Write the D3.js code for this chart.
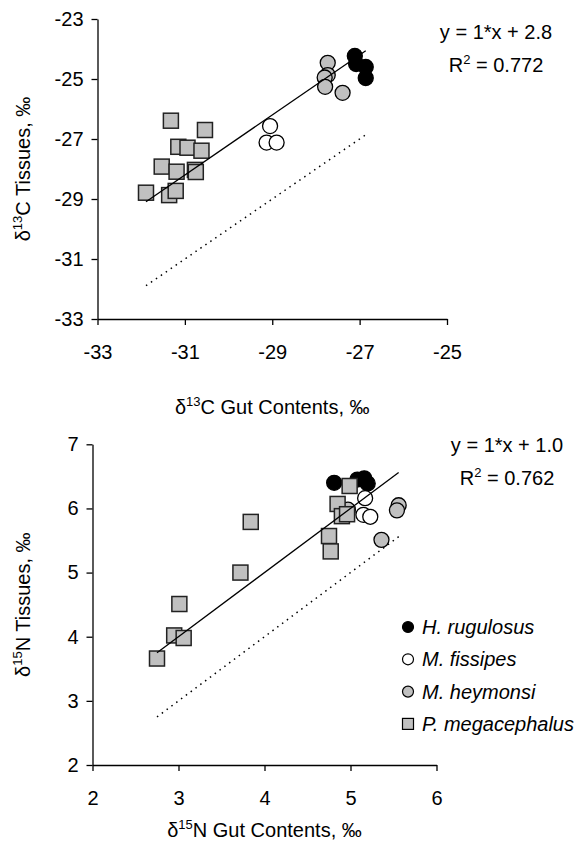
<!DOCTYPE html>
<html lang="en">
<head>
<meta charset="UTF-8" />
<title>isotope scatter</title>
<script src="https://d3js.org/d3.v7.min.js"></script>
<style>
  body { margin: 0; background: #fff; }
  svg { font-family: "Liberation Sans", Arial, sans-serif; }
  .axis path, .axis line { stroke: #000; stroke-width: 1.3; }
  .axis text { font-size: 20px; fill: #000; font-family: "Liberation Sans", Arial, sans-serif; }
</style>
</head>
<body>
<script>

const WIDTH = 577;
const HEIGHT = 843;

const species = ["H. rugulosus", "M. fissipes", "M. heymonsi", "P. megacephalus"];

// delta 13C: gut contents (x) vs tissues (y)
const hrC_x = [-27.11, -27.08, -26.86, -26.86];
const hrC_y = [-24.23, -24.50, -24.60, -24.97];
const mfC_x = [-29.05, -29.13, -28.90];
const mfC_y = [-26.57, -27.12, -27.12];
const mhC_x = [-27.73, -27.73, -27.80, -27.79, -27.39];
const mhC_y = [-24.46, -24.87, -24.95, -25.26, -25.46];
const pmC_x = [-31.32, -30.54, -31.15, -30.94, -30.62, -31.53, -31.19, -30.77, -30.75, -31.89, -31.36, -31.21];
const pmC_y = [-26.39, -26.70, -27.26, -27.29, -27.39, -27.92, -28.09, -28.03, -28.10, -28.79, -28.87, -28.73];
const cTicks = [-33, -31, -29, -27, -25];
const cTicksY = [-33, -31, -29, -27, -25, -23];
const cFit = { slope: 1, intercept: 2.8, r2: "0.772", label: "2.8" };

// delta 15N
const hrN_x = [4.81, 5.08, 5.16, 5.20];
const hrN_y = [6.40, 6.45, 6.47, 6.39];
const mfN_x = [5.17, 5.15, 5.23];
const mfN_y = [6.16, 5.90, 5.87];
const mhN_x = [5.56, 5.54, 5.36, 4.97];
const mhN_y = [6.05, 5.97, 5.51, 5.98];
const pmN_x = [2.75, 2.95, 3.06, 3.01, 3.72, 3.84, 4.75, 4.77, 4.85, 4.90, 4.96, 4.99];
const pmN_y = [3.66, 4.02, 3.98, 4.51, 5.00, 5.79, 5.57, 5.33, 6.07, 5.88, 5.91, 6.35];
const nTicks = [2, 3, 4, 5, 6];
const nTicksY = [2, 3, 4, 5, 6, 7];
const nFit = { slope: 1, intercept: 1.0, r2: "0.762", label: "1.0" };

const fills = ["#000000", "#ffffff", "#c0c0c0", "#c0c0c0"];

var svg = d3.select("body").append("svg")
    .attr("width", WIDTH)
    .attr("height", HEIGHT);

// plain hyphen minus like the original, no decimals
const fmt = d => String(d);

// text with a superscript piece: parts = [normal, sup, normal]
function supText(sel, parts) {
    sel.append("tspan").text(parts[0]);
    sel.append("tspan").attr("font-size", 13).attr("dy", -8).text(parts[1]);
    sel.append("tspan").attr("dy", 8).text(parts[2]);
}

function drawPanel(p) {
    const x = d3.scaleLinear().domain(p.xDomain).range(p.xRange);
    const y = d3.scaleLinear().domain(p.yDomain).range(p.yRange);

    svg.append("g")
        .attr("class", "axis")
        .attr("transform", `translate(0, ${p.yRange[0]})`)
        .call(d3.axisBottom(x).tickValues(p.xTicks).tickFormat(fmt)
            .tickSize(6).tickSizeOuter(0).tickPadding(20));

    svg.append("g")
        .attr("class", "axis")
        .attr("transform", `translate(${p.xRange[0]}, 0)`)
        .call(d3.axisLeft(y).tickValues(p.yTicks).tickFormat(fmt)
            .tickSize(6).tickSizeOuter(0).tickPadding(8));

    // markers
    p.series.forEach((s, i) => {
        const pts = s[0].map((v, k) => [v, s[1][k]]);
        if (i < 3) {
            svg.append("g").selectAll("circle")
                .data(pts).enter().append("circle")
                .attr("cx", d => x(d[0]))
                .attr("cy", d => y(d[1]))
                .attr("r", 7.5)
                .attr("fill", fills[i])
                .attr("stroke", "#000")
                .attr("stroke-width", 1.3);
        } else {
            svg.append("g").selectAll("rect")
                .data(pts).enter().append("rect")
                .attr("x", d => x(d[0]) - 7.5)
                .attr("y", d => y(d[1]) - 7.5)
                .attr("width", 15)
                .attr("height", 15)
                .attr("fill", fills[i])
                .attr("stroke", "#222")
                .attr("stroke-width", 1.5);
        }
    });

    // fitted line and 1:1 line over the x range of the data
    const allX = [].concat(...p.series.map(s => s[0]));
    const ext = d3.extent(allX);
    const fit = d3.line().x(d => x(d)).y(d => y(p.fit.slope * d + p.fit.intercept));
    const one = d3.line().x(d => x(d)).y(d => y(d));
    svg.append("path").datum(ext)
        .attr("d", fit).attr("fill", "none")
        .attr("stroke", "#000").attr("stroke-width", 1.3);
    svg.append("path").datum(ext)
        .attr("d", one).attr("fill", "none")
        .attr("stroke", "#000").attr("stroke-width", 1.5)
        .attr("stroke-dasharray", "1.5,4.5");

    // equation
    svg.append("text")
        .attr("x", p.eqX).attr("y", p.eqY)
        .attr("text-anchor", "middle")
        .attr("font-size", 20)
        .text(`y = 1*x + ${p.fit.label}`);
    supText(svg.append("text")
        .attr("x", p.eqX).attr("y", p.eqY + 33)
        .attr("text-anchor", "middle")
        .attr("font-size", 20), ["R", "2", ` = ${p.fit.r2}`]);

    // axis titles
    supText(svg.append("text")
        .attr("x", (p.xRange[0] + p.xRange[1]) / 2)
        .attr("y", p.xTitleY)
        .attr("text-anchor", "middle")
        .attr("font-size", 20), ["δ", p.iso, `${p.el} Gut Contents, ‰`]);
    supText(svg.append("text")
        .attr("transform", `translate(30, ${(p.yRange[0] + p.yRange[1]) / 2}) rotate(-90)`)
        .attr("text-anchor", "middle")
        .attr("font-size", 20), ["δ", p.iso, `${p.el} Tissues, ‰`]);
}

drawPanel({
    xDomain: [-33, -25], xRange: [97.5, 447],
    yDomain: [-33, -23], yRange: [319, 19],
    xTicks: cTicks, yTicks: cTicksY,
    series: [[hrC_x, hrC_y], [mfC_x, mfC_y], [mhC_x, mhC_y], [pmC_x, pmC_y]],
    fit: cFit, eqX: 496, eqY: 39, xTitleY: 414, iso: "13", el: "C"
});

drawPanel({
    xDomain: [2, 6], xRange: [92.5, 436.5],
    yDomain: [2, 7], yRange: [765, 444.3],
    xTicks: nTicks, yTicks: nTicksY,
    series: [[hrN_x, hrN_y], [mfN_x, mfN_y], [mhN_x, mhN_y], [pmN_x, pmN_y]],
    fit: nFit, eqX: 507, eqY: 452, xTitleY: 837, iso: "15", el: "N"
});

// legend
var legend = svg.append("g").attr("transform", "translate(408, 627)");
species.forEach((s, i) => {
    const row = legend.append("g").attr("transform", `translate(0, ${i * 32.3})`);
    if (i < 3) {
        row.append("circle").attr("r", 5.5)
            .attr("fill", fills[i]).attr("stroke", "#000").attr("stroke-width", 1.2);
    } else {
        row.append("rect").attr("x", -5.5).attr("y", -5.5).attr("width", 11).attr("height", 11)
            .attr("fill", fills[i]).attr("stroke", "#000").attr("stroke-width", 1.2);
    }
    row.append("text")
        .attr("x", 14).attr("y", 7)
        .attr("font-size", 20)
        .attr("font-style", "italic")
        .text(s);
});

</script>
</body>
</html>
